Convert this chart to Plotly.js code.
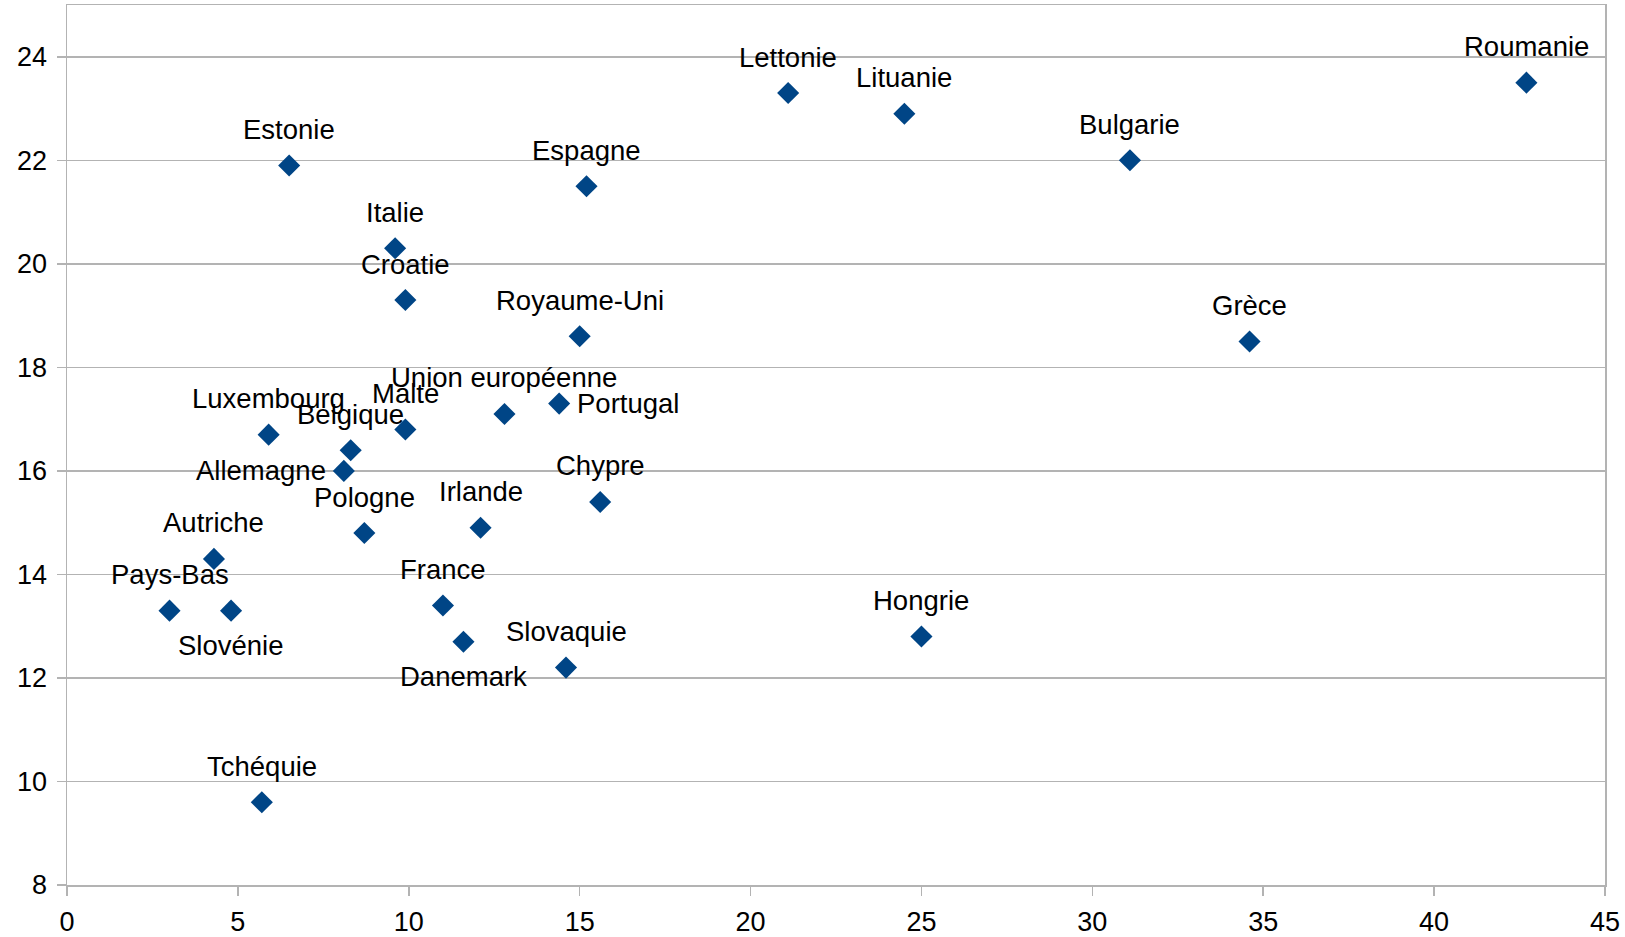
<!DOCTYPE html>
<html>
<head>
<meta charset="utf-8">
<script src="https://cdn.plot.ly/plotly-3.0.1.min.js"></script>
<style>
  html, body { margin: 0; padding: 0; background: #ffffff; }
  #chart { width: 1625px; height: 937px; }
</style>
</head>
<body>
<div id="chart"></div>
<script>
const countries = ["Estonie", "Italie", "Croatie", "Espagne", "Lettonie", "Lituanie", "Bulgarie", "Roumanie", "Grèce", "Royaume-Uni", "Portugal", "Union européenne", "Malte", "Luxembourg", "Belgique", "Allemagne", "Chypre", "Irlande", "Pologne", "Autriche", "Pays-Bas", "Slovénie", "France", "Danemark", "Slovaquie", "Hongrie", "Tchéquie"];
const xValues = [6.5, 9.6, 9.9, 15.2, 21.1, 24.5, 31.1, 42.7, 34.6, 15.0, 14.4, 12.8, 9.9, 5.9, 8.3, 8.1, 15.6, 12.1, 8.7, 4.3, 3.0, 4.8, 11.0, 11.6, 14.6, 25.0, 5.7];
const yValues = [21.9, 20.3, 19.3, 21.5, 23.3, 22.9, 22.0, 23.5, 18.5, 18.6, 17.3, 17.1, 16.8, 16.7, 16.4, 16.0, 15.4, 14.9, 14.8, 14.3, 13.3, 13.3, 13.4, 12.7, 12.2, 12.8, 9.6];
const labelPlacement = ["above", "above", "above", "above", "above", "above", "above", "above", "above", "above", "right", "above", "above", "above", "above", "left", "above", "above", "above", "above", "above", "below", "above", "below", "above", "above", "above"];
const xTickValues = [0, 5, 10, 15, 20, 25, 30, 35, 40, 45];
const yTickValues = [8, 10, 12, 14, 16, 18, 20, 22, 24];

const FONT = "Liberation Sans, Arial, sans-serif";
const FS = 27;
const LFS = 27.5;

const trace = {
  type: "scatter",
  mode: "markers",
  x: xValues,
  y: yValues,
  text: countries,
  hoverinfo: "text",
  marker: { symbol: "diamond", size: 17, color: "#004586", line: { width: 0 } }
};

const annotations = countries.map((c, i) => {
  const p = labelPlacement[i];
  const a = {
    x: xValues[i], y: yValues[i], xref: "x", yref: "y",
    text: c, showarrow: false,
    font: { family: FONT, size: LFS, color: "#000000" }
  };
  if (p === "above") { a.xanchor = "center"; a.yanchor = "middle"; a.yshift = 36; }
  else if (p === "below") { a.xanchor = "center"; a.yanchor = "middle"; a.yshift = -35; }
  else if (p === "left") { a.xanchor = "right"; a.yanchor = "middle"; a.xshift = -16; }
  else { a.xanchor = "left"; a.yanchor = "middle"; a.xshift = 16; }
  return a;
});

const layout = {
  width: 1625,
  height: 937,
  margin: { l: 67, r: 20, t: 5, b: 52 },
  paper_bgcolor: "#ffffff",
  plot_bgcolor: "#ffffff",
  showlegend: false,
  font: { family: FONT, size: FS, color: "#000000" },
  xaxis: {
    range: [0, 45],
    tickmode: "array",
    tickvals: xTickValues,
    ticktext: xTickValues.map(String),
    showgrid: false,
    zeroline: false,
    showline: true,
    mirror: true,
    linecolor: "#b3b3b3",
    linewidth: 1.5,
    ticks: "outside",
    ticklen: 9,
    tickcolor: "#b3b3b3",
    tickwidth: 1.5,
    ticklabelstandoff: 3,
    tickfont: { family: FONT, size: FS, color: "#000000" }
  },
  yaxis: {
    range: [8, 25],
    tickmode: "array",
    tickvals: yTickValues,
    ticktext: yTickValues.map(String),
    showgrid: true,
    gridcolor: "#b3b3b3",
    gridwidth: 1.5,
    zeroline: false,
    showline: true,
    mirror: true,
    linecolor: "#b3b3b3",
    linewidth: 1.5,
    ticks: "outside",
    ticklen: 9,
    tickcolor: "#b3b3b3",
    tickwidth: 1.5,
    ticklabelstandoff: 4,
    tickfont: { family: FONT, size: FS, color: "#000000" }
  },
  annotations: annotations
};

Plotly.newPlot("chart", [trace], layout, { displayModeBar: false, staticPlot: true });
</script>
</body>
</html>
